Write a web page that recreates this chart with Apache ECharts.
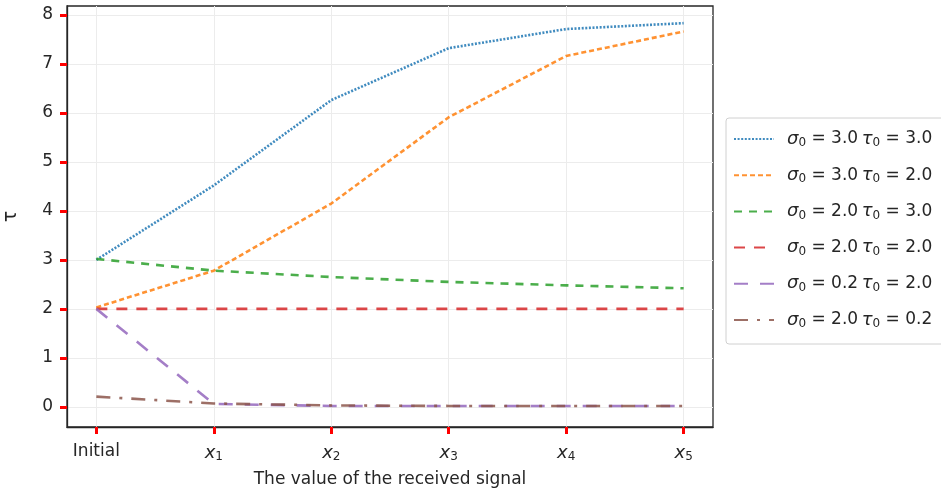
<!DOCTYPE html>
<html>
<head>
<meta charset="utf-8">
<script src="https://cdn.jsdelivr.net/npm/echarts@6/dist/echarts.min.js"></script>
<style>html,body{margin:0;padding:0;background:#fff}#c{width:941px;height:492px}</style>
</head>
<body>
<div id="c"></div>
<script>
// ---- data ----
var tickLabels = ['Initial', 'x1', 'x2', 'x3', 'x4', 'x5'];
var yTicks = [0, 1, 2, 3, 4, 5, 6, 7, 8];
var sigma0 = ['3.0', '3.0', '2.0', '2.0', '0.2', '2.0'];
var tau0   = ['3.0', '2.0', '3.0', '2.0', '2.0', '0.2'];
var s1 = [3.00, 4.52, 6.26, 7.32, 7.71, 7.83];
var s2 = [2.03, 2.78, 4.15, 5.91, 7.16, 7.66];
var s3 = [3.02, 2.78, 2.65, 2.55, 2.48, 2.42];
var s4 = [2.00, 2.00, 2.00, 2.00, 2.00, 2.00];
var s5 = [2.00, 0.06, 0.02, 0.02, 0.02, 0.02];
var s6 = [0.21, 0.07, 0.03, 0.02, 0.02, 0.02];
var seriesValues = [s1, s2, s3, s4, s5, s6];
var xTitle = 'The value of the received signal';
var yTitle = 'τ';

// ---- styles ----
var colors = ['#1f77b4', '#ff7f0e', '#2ca02c', '#d62728', '#9467bd', '#8c564b'];
var dashes = [[2, 1.6], [5, 3], [8, 7], [11, 9], [14, 12], [14, 9, 3, 9]];
var FONT = 'DejaVu Sans';
var TXT = '#262626';

var names = sigma0.map(function (s, i) { return 's' + i; });
function legendText(name) {
  var i = names.indexOf(name);
  return '{g|σ}{s|0}{t| = ' + sigma0[i] + '}{g|\u2009τ}{s|0}{t| = ' + tau0[i] + '}';
}
var xTickValues = tickLabels.map(function (t, i) { return i; });

var series = seriesValues.map(function (vals, i) {
  return {
    name: names[i],
    type: 'line',
    symbol: 'none',
    data: vals.map(function (v, k) { return [k, v]; }),
    lineStyle: { color: colors[i], width: 2.6, type: dashes[i], opacity: 0.85, cap: 'butt' },
    itemStyle: { color: colors[i], opacity: 0.85 },
    emphasis: { disabled: true }
  };
});

var chart = echarts.init(document.getElementById('c'));
chart.setOption({
  animation: false,
  grid: { left: 67, right: 228, top: 6, bottom: 65, outerBoundsMode: 'none',
          show: true, borderColor: TXT, borderWidth: 1.3 },
  xAxis: {
    type: 'value', min: -0.25, max: 5.25,
    name: xTitle, nameLocation: 'middle', nameGap: 44,
    nameTextStyle: { fontFamily: FONT, fontSize: 17, color: TXT },
    axisLine: { show: true, onZero: false, lineStyle: { color: TXT, width: 1.3 } },
    axisTick: { show: true, length: 7, customValues: xTickValues, lineStyle: { color: 'red', width: 3 } },
    splitLine: { show: true, lineStyle: { color: '#ececec', width: 1 } },
    axisLabel: {
      margin: 16, fontFamily: FONT, fontSize: 17, color: TXT,
      customValues: xTickValues,
      formatter: function (v) {
        var t = tickLabels[Math.round(v)];
        if (!t) return '';
        if (t === 'Initial') return '{n|Initial}';
        return '{it|' + t.charAt(0) + '}{sub|' + t.slice(1) + '}';
      },
      rich: {
        n: { fontFamily: FONT, fontSize: 17, color: TXT },
        it: { fontFamily: FONT, fontSize: 18, fontStyle: 'italic', color: TXT },
        sub: { fontFamily: FONT, fontSize: 12, color: TXT, verticalAlign: 'bottom', padding: [8, 0, 0, 0] }
      }
    }
  },
  yAxis: {
    type: 'value', min: -0.41, max: 8.18, minInterval: 1, maxInterval: 1, splitNumber: 8,
    name: yTitle, nameLocation: 'middle', nameGap: 46, nameRotate: 90,
    nameTextStyle: { fontFamily: FONT, fontSize: 19, color: TXT },
    axisLine: { show: true, onZero: false, lineStyle: { color: TXT, width: 1.3 } },
    axisTick: { show: true, length: 7, customValues: yTicks, lineStyle: { color: 'red', width: 3 } },
    splitLine: { show: true, lineStyle: { color: '#ececec', width: 1 } },
    axisLabel: {
      margin: 14, fontFamily: FONT, fontSize: 17, color: TXT,
      customValues: yTicks,
      formatter: function (v) { return String(Math.round(v)); }
    }
  },
  legend: {
    orient: 'vertical', left: 726, top: 118,
    padding: [12, 12, 14, 7],
    itemWidth: 40, itemHeight: 14, itemGap: 17.2,
    borderColor: '#d0d0d0', borderWidth: 1, borderRadius: 3,
    backgroundColor: '#fff',
    selectedMode: false,
    data: names,
    formatter: legendText,
    itemStyle: { opacity: 0 },
    textStyle: {
      fontFamily: FONT, fontSize: 17, color: TXT, padding: [0, 0, 0, 8],
      rich: {
        g: { fontFamily: FONT, fontSize: 18, fontStyle: 'italic', color: TXT },
        s: { fontFamily: FONT, fontSize: 12, color: TXT, verticalAlign: 'bottom', padding: [8, 0, 0, 0] },
        t: { fontFamily: FONT, fontSize: 17, color: TXT }
      }
    }
  },
  series: series
});
</script>
</body>
</html>
